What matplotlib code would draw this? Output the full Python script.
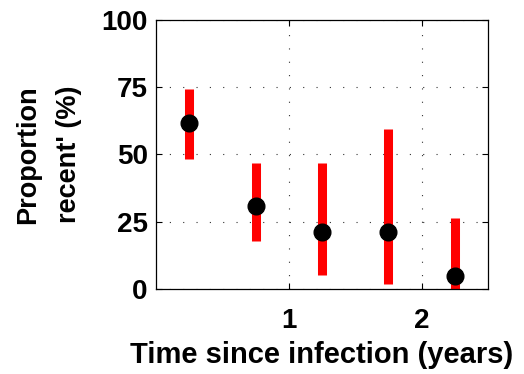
import matplotlib
matplotlib.use("Agg")
import matplotlib.pyplot as plt

plt.rcParams['font.family'] = ['Liberation Sans', 'DejaVu Sans']
plt.rcParams['font.weight'] = 'bold'

time_years = [0.25, 0.75, 1.25, 1.75, 2.25]
prop_recent = [61.8, 30.9, 21.3, 21.3, 4.8]
ci_lower = [48.3, 17.7, 5.2, 1.7, 0.0]
ci_upper = [74.3, 47.0, 47.0, 59.5, 26.5]
x_ticks = [1, 2]
y_ticks = [0, 25, 50, 75, 100]

fig = plt.figure(figsize=(5.24, 3.74), dpi=100)
ax = fig.add_axes([0.2977, 0.2273, 0.6336, 0.7192])

ax.vlines(time_years, ci_lower, ci_upper, colors='#ff0000', linewidth=6.5, zorder=2)
ax.plot(time_years, prop_recent, 'o', color='black', markersize=12, zorder=3)

ax.set_xlim(0, 2.5)
ax.set_ylim(0, 100)
ax.set_xticks(x_ticks)
ax.set_yticks(y_ticks)
ax.set_xticklabels([str(t) for t in x_ticks])
ax.grid(True, color='#333333', linestyle=(0, (1, 11)), linewidth=0.8)
ax.tick_params(direction='in', length=4, labelsize=20, top=True, right=True, width=0.8)
ax.tick_params(axis='x', pad=14)
ax.tick_params(axis='y', pad=6)
for s in ax.spines.values():
    s.set_linewidth(0.9)

ax.set_xlabel('Time since infection (years)', fontsize=21, fontweight='bold', labelpad=5)
ax.set_ylabel("Proportion\nrecent' (%)", fontsize=19.5, fontweight='bold', labelpad=14, linespacing=1.75)

fig.savefig('out.png', dpi=100)
